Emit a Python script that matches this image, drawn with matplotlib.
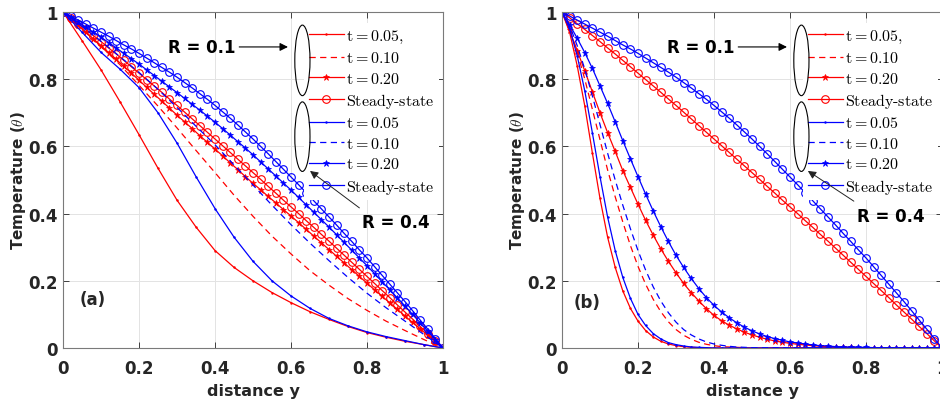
import numpy as np
import matplotlib.pyplot as plt
from matplotlib.patches import Ellipse

plt.rcParams['mathtext.fontset'] = 'cm'
plt.rcParams['font.family'] = 'DejaVu Sans'

# x grids
y_fine = np.round(np.arange(0, 1.0001, 0.02), 2)      # marked curves
y_coarse = np.round(np.arange(0, 1.0001, 0.05), 2)    # panel (a) plain curves
y_b = list(np.round(np.arange(0, 0.5001, 0.02), 2)) + [1.0]  # panel (b) plain curves

# steady state (same in both panels)
steady_r01 = [1.000, 0.983, 0.965, 0.948, 0.930, 0.912, 0.893, 0.875, 0.856, 0.837,
              0.818, 0.799, 0.780, 0.761, 0.741, 0.722, 0.702, 0.682, 0.662, 0.642,
              0.622, 0.602, 0.582, 0.562, 0.542, 0.522, 0.502, 0.481, 0.461, 0.440,
              0.420, 0.400, 0.379, 0.359, 0.338, 0.318, 0.297, 0.276, 0.255, 0.234,
              0.213, 0.192, 0.171, 0.150, 0.128, 0.107, 0.086, 0.064, 0.043, 0.021, 0.000]
steady_r04 = [1.000, 0.988, 0.976, 0.964, 0.952, 0.940, 0.928, 0.915, 0.902, 0.890,
              0.877, 0.863, 0.849, 0.835, 0.821, 0.806, 0.790, 0.774, 0.757, 0.740,
              0.722, 0.703, 0.684, 0.664, 0.643, 0.622, 0.600, 0.578, 0.555, 0.532,
              0.509, 0.486, 0.462, 0.438, 0.414, 0.390, 0.366, 0.341, 0.317, 0.292,
              0.268, 0.242, 0.216, 0.190, 0.164, 0.138, 0.111, 0.083, 0.056, 0.028, 0.000]

# panel (a)
a_t20_r01 = [1.000, 0.980, 0.960, 0.940, 0.920, 0.900, 0.879, 0.859, 0.838, 0.818,
             0.797, 0.776, 0.755, 0.735, 0.714, 0.693, 0.673, 0.653, 0.632, 0.612,
             0.592, 0.572, 0.551, 0.531, 0.510, 0.490, 0.471, 0.451, 0.432, 0.412,
             0.393, 0.373, 0.353, 0.333, 0.313, 0.293, 0.273, 0.253, 0.233, 0.213,
             0.193, 0.173, 0.154, 0.134, 0.115, 0.095, 0.076, 0.057, 0.038, 0.019, 0.000]
a_t20_r04 = [1.000, 0.985, 0.970, 0.955, 0.940, 0.925, 0.909, 0.893, 0.877, 0.861,
             0.845, 0.828, 0.811, 0.794, 0.777, 0.760, 0.743, 0.725, 0.708, 0.690,
             0.672, 0.653, 0.634, 0.614, 0.595, 0.575, 0.554, 0.533, 0.512, 0.491,
             0.470, 0.448, 0.426, 0.404, 0.382, 0.360, 0.337, 0.314, 0.291, 0.268,
             0.245, 0.221, 0.197, 0.173, 0.149, 0.125, 0.100, 0.075, 0.050, 0.025, 0.000]
a_t10_r01 = [1.0, 0.95, 0.898, 0.843, 0.782, 0.72, 0.655, 0.588, 0.522, 0.455, 0.392,
             0.333, 0.28, 0.23, 0.187, 0.147, 0.112, 0.08, 0.052, 0.025, 0.0]
a_t10_r04 = [1.0, 0.957, 0.913, 0.867, 0.82, 0.77, 0.716, 0.66, 0.605, 0.545, 0.485,
             0.425, 0.367, 0.312, 0.26, 0.21, 0.163, 0.12, 0.08, 0.04, 0.0]
a_t05_r01 = [1.0, 0.915, 0.828, 0.733, 0.635, 0.535, 0.44, 0.36, 0.29, 0.24, 0.2,
             0.165, 0.135, 0.108, 0.085, 0.064, 0.046, 0.032, 0.02, 0.01, 0.0]
a_t05_r04 = [1.0, 0.94, 0.88, 0.83, 0.775, 0.7, 0.61, 0.51, 0.415, 0.33, 0.258,
             0.2, 0.155, 0.118, 0.088, 0.066, 0.048, 0.034, 0.022, 0.01, 0.0]

# panel (b)
b_t20_r01 = [1.000, 0.945, 0.885, 0.825, 0.762, 0.700, 0.641, 0.585, 0.528, 0.478,
             0.428, 0.380, 0.336, 0.295, 0.258, 0.224, 0.192, 0.165, 0.140, 0.117,
             0.097, 0.081, 0.068, 0.057, 0.047, 0.039, 0.032, 0.026, 0.021, 0.017,
             0.014, 0.011, 0.009, 0.007, 0.005, 0.004, 0.003, 0.002, 0.002, 0.001,
             0.001, 0.001, 0.001, 0.000, 0.000, 0.000, 0.000, 0.000, 0.000, 0.000, 0.000]
b_t20_r04 = [1.000, 0.962, 0.922, 0.879, 0.832, 0.780, 0.728, 0.673, 0.617, 0.563,
             0.510, 0.458, 0.408, 0.361, 0.317, 0.276, 0.240, 0.207, 0.177, 0.150,
             0.127, 0.107, 0.090, 0.075, 0.062, 0.051, 0.042, 0.034, 0.028, 0.023,
             0.018, 0.015, 0.012, 0.009, 0.007, 0.006, 0.004, 0.003, 0.003, 0.002,
             0.002, 0.001, 0.001, 0.001, 0.001, 0.000, 0.000, 0.000, 0.000, 0.000, 0.000]
b_t10_r01 = [1.0, 0.95, 0.88, 0.80, 0.71, 0.62, 0.53, 0.45, 0.375, 0.305, 0.243, 0.19,
             0.145, 0.108, 0.078, 0.055, 0.038, 0.026, 0.017, 0.011, 0.007, 0.004,
             0.003, 0.002, 0.001, 0.0, 0.0]
b_t10_r04 = [1.0, 0.96, 0.90, 0.83, 0.75, 0.665, 0.58, 0.50, 0.425, 0.355, 0.29, 0.232,
             0.182, 0.14, 0.105, 0.077, 0.055, 0.039, 0.027, 0.018, 0.012, 0.008,
             0.005, 0.003, 0.002, 0.001, 0.0]
b_t05_r01 = [1.0, 0.94, 0.84, 0.72, 0.58, 0.445, 0.33, 0.24, 0.17, 0.118, 0.08, 0.052,
             0.033, 0.02, 0.012, 0.007, 0.004, 0.002, 0.001, 0.0, 0.0, 0.0, 0.0, 0.0,
             0.0, 0.0, 0.0]
b_t05_r04 = [1.0, 0.95, 0.87, 0.765, 0.64, 0.51, 0.39, 0.29, 0.21, 0.148, 0.1, 0.067,
             0.043, 0.027, 0.016, 0.01, 0.006, 0.003, 0.002, 0.001, 0.0, 0.0, 0.0, 0.0,
             0.0, 0.0, 0.0]

labels_r01 = [r'$\mathrm{t} = 0.05,$', r'$\mathrm{t} = 0.10$', r'$\mathrm{t} = 0.20$',
              r'$\text{Steady-state}$']
labels_r04 = [r'$\mathrm{t} = 0.05$', r'$\mathrm{t} = 0.10$', r'$\mathrm{t} = 0.20$',
              r'$\text{Steady-state}$']

panels = [
    dict(tag='(a)', x_plain=y_coarse,
         r01=[a_t05_r01, a_t10_r01, a_t20_r01, steady_r01],
         r04=[a_t05_r04, a_t10_r04, a_t20_r04, steady_r04],
         pos=[63 / 940, 57 / 406, 380 / 940, 336 / 406],
         r4_text=(0.875, 0.375), r4_tail=(0.78, 0.417), r4_head=(0.65, 0.527),
         tag_xy=(0.045, 0.145)),
    dict(tag='(b)', x_plain=y_b,
         r01=[b_t05_r01, b_t10_r01, b_t20_r01, steady_r01],
         r04=[b_t05_r04, b_t10_r04, b_t20_r04, steady_r04],
         pos=[562 / 940, 57 / 406, 380 / 940, 336 / 406],
         r4_text=(0.866, 0.393), r4_tail=(0.768, 0.437), r4_head=(0.647, 0.527),
         tag_xy=(0.03, 0.137)),
]

fig = plt.figure(figsize=(9.4, 4.06), dpi=100)

for p in panels:
    ax = fig.add_axes(p['pos'])
    handles = []
    for color, curves, labels in [('r', p['r01'], labels_r01), ('b', p['r04'], labels_r04)]:
        h1, = ax.plot(p['x_plain'], curves[0], '-', color=color, lw=0.9,
                      marker='.', ms=1.5, label=labels[0])
        h2, = ax.plot(p['x_plain'], curves[1], '--', color=color, lw=0.9,
                      dashes=(5, 3.5), label=labels[1])
        h3, = ax.plot(y_fine, curves[2], '-', color=color, lw=0.9,
                      marker='*', ms=4.5, mew=0.5, label=labels[2])
        h4, = ax.plot(y_fine, curves[3], '-', color=color, lw=0.9,
                      marker='o', ms=5.5, mfc='none', mew=0.8, label=labels[3])
        handles += [h1, h2, h3, h4]

    ax.set_xlim(0, 1)
    ax.set_ylim(0, 1)
    ax.set_xticks([0, 0.2, 0.4, 0.6, 0.8, 1])
    ax.set_xticklabels(['0', '0.2', '0.4', '0.6', '0.8', '1'])
    ax.set_yticks([0, 0.2, 0.4, 0.6, 0.8, 1])
    ax.set_yticklabels(['0', '0.2', '0.4', '0.6', '0.8', '1'])
    ax.grid(True, color='#e3e3e3', lw=0.7)
    ax.set_axisbelow(True)
    ax.tick_params(direction='in', length=4, width=0.6, top=True, right=True,
                   labelsize=12, colors='#262626', pad=4)
    ax.tick_params(axis='x', pad=8)
    for lab in ax.get_xticklabels() + ax.get_yticklabels():
        lab.set_fontweight('bold')
    for s in ax.spines.values():
        s.set_color('#7a7a7a')
        s.set_linewidth(0.8)
    ax.set_xlabel('distance y', fontsize=11.5, fontweight='bold', color='#262626', labelpad=4)
    ax.set_ylabel(r'Temperature ($\theta$)', fontsize=11, fontweight='bold',
                  color='#262626', labelpad=0)

    ax.text(*p['tag_xy'], p['tag'], transform=ax.transAxes, fontsize=12,
            fontweight='bold', color='#262626', ha='left', va='center')

    leg = ax.legend(handles=handles, loc='upper left', bbox_to_anchor=(0.634, 0.968),
                    fontsize=11.5, frameon=True, facecolor='white', edgecolor='none',
                    framealpha=1, fancybox=False, borderpad=0.3, handlelength=2.2,
                    handletextpad=0.15, labelspacing=0.34, numpoints=1,
                    borderaxespad=0)

    for cy, h in [(0.856, 0.21), (0.629, 0.207)]:
        e = Ellipse((0.630, cy), 0.04, h, transform=ax.transAxes, fill=False,
                    edgecolor='k', lw=0.8, zorder=7)
        ax.add_patch(e)

    ax.annotate('R = 0.1', xy=(0.592, 0.896), xytext=(0.364, 0.896),
                xycoords='axes fraction', textcoords='axes fraction',
                ha='center', va='center', fontsize=12, fontweight='bold', zorder=7,
                arrowprops=dict(arrowstyle='-|>', color='k', lw=0.8,
                                mutation_scale=12, shrinkA=1, shrinkB=0))
    ax.annotate('', xy=p['r4_head'], xytext=p['r4_tail'],
                xycoords='axes fraction', textcoords='axes fraction', zorder=7,
                arrowprops=dict(arrowstyle='-|>', color='#222222', lw=0.7,
                                mutation_scale=12, shrinkA=0, shrinkB=0))
    ax.text(*p['r4_text'], 'R = 0.4', transform=ax.transAxes, fontsize=12,
            fontweight='bold', ha='center', va='center', zorder=7)

fig.savefig('out.png', dpi=100)
